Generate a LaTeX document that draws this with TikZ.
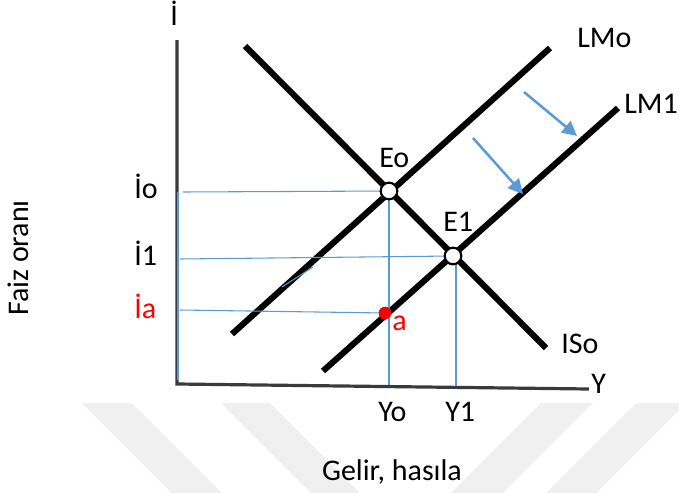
\documentclass[tikz,border=0pt]{standalone}
\usepackage{fontspec}
\setmainfont{Carlito}
\usetikzlibrary{arrows.meta}
\pgfdeclarelayer{back}
\pgfdeclarelayer{mid}
\pgfsetlayers{back,mid,main}
\definecolor{lblue}{HTML}{5B9BD5}
\definecolor{axgray}{HTML}{3A3A3A}
\definecolor{wm}{HTML}{F0F0F0}
\tikzset{
  curve/.style={line width=4.6pt, line cap=butt},
  guide/.style={draw=lblue, line width=0.8pt},
  axisline/.style={draw=axgray, line width=2.4pt},
  shiftarrow/.style={draw=lblue, line width=1.9pt, -{Triangle[length=11pt,width=11pt]}},
  eqpt/.style={circle, draw=black, fill=white, line width=1.6pt, minimum size=12.5pt, inner sep=0pt},
  redpt/.style={circle, fill=red, minimum size=9.5pt, inner sep=0pt},
  lbl/.style={font=\fontsize{22.5}{26}\selectfont, inner sep=0pt, anchor=base west},
  wmstripe/.style={fill=wm, draw=none}
}
\begin{document}
\begin{tikzpicture}[x=0.75pt,y=-0.75pt]
\useasboundingbox (0,0) rectangle (679,493);
% coordinates
\coordinate (origin) at (177,384);
\coordinate (ytop) at (177,40);
\coordinate (xend) at (589,389);
\coordinate (is0a) at (245,46);
\coordinate (is0b) at (546,348);
\coordinate (lm0a) at (232,334);
\coordinate (lm0b) at (550,48);
\coordinate (lm1a) at (323,371);
\coordinate (lm1b) at (618,108);
\coordinate (ioaxis) at (183,192);
\coordinate (i1axis) at (180,259);
\coordinate (iaaxis) at (180,310);
\coordinate (yoaxis) at (389,385);
\coordinate (y1axis) at (456,386);
\coordinate (e1foot) at (456,264);
\coordinate (blueax) at (178,192);
\coordinate (blueaxb) at (178,380);
\coordinate (sb1) at (282,287);
\coordinate (sb2) at (313,267);
\coordinate (ar1s) at (524,92);
\coordinate (ar1e) at (577,136);
\coordinate (ar2s) at (473,138);
\coordinate (ar2e) at (523,194);
% points (main layer, on top)
\node[eqpt] (Eo) at (389,191) {};
\node[eqpt] (E1) at (453,256) {};
\node[redpt] (pa) at (385,313) {};
\begin{pgfonlayer}{back}
% watermark
\fill[wmstripe] (82,403) -- (132,403) -- (222,493) -- (172,493) -- cycle;
\fill[wmstripe] (221,403) -- (270,403) -- (360,493) -- (311,493) -- cycle;
\fill[wmstripe] (541,403) -- (593,403) -- (503,493) -- (451,493) -- cycle;
\fill[wmstripe] (636,403) -- (679,403) -- (679,410) -- (596,493) -- (546,493) -- cycle;
% axes
\draw[axisline] (ytop) -- (origin) -- (xend);
% curves
\draw[curve] (is0a) -- (is0b);
\draw[curve] (lm0a) -- (lm0b);
\draw[curve] (lm1a) -- (lm1b);
\end{pgfonlayer}
\begin{pgfonlayer}{mid}
\draw[guide] (blueax) -- (blueaxb);
\draw[guide] (ioaxis) -- (Eo.center);
\draw[guide] (i1axis) -- (E1.center);
\draw[guide] (iaaxis) -- (pa.center);
\draw[guide] (Eo.center) -- (yoaxis);
\draw[guide] (e1foot) -- (y1axis);
\draw[guide] (sb1) -- (sb2);
\end{pgfonlayer}
% shift arrows
\draw[shiftarrow] (ar1s) -- (ar1e);
\draw[shiftarrow] (ar2s) -- (ar2e);
% labels
\node[lbl] (li) at (170,25) {İ};
\node[lbl] (lLMo) at (577,47) {LMo};
\node[lbl] (lLM1) at (624,113) {LM1};
\node[lbl] (lEo) at (379,167) {Eo};
\node[lbl] (lE1) at (443,231) {E1};
\node[lbl, text=red] (la) at (392,330) {a};
\node[lbl] (lISo) at (561,353) {ISo};
\node[lbl] (lY) at (591,393) {Y};
\node[lbl] (lYo) at (378,421) {Yo};
\node[lbl] (lY1) at (445,421) {Y1};
\node[lbl] (lio) at (134,198) {İo};
\node[lbl] (li1) at (134,265) {İ1};
\node[lbl, text=red] (lia) at (134,318) {İa};
\node[lbl, anchor=base] (lgel) at (392,480) {Gelir, hasıla};
\node[lbl, anchor=base, rotate=90] (lfaiz) at (28,258) {Faiz oranı};
\end{tikzpicture}
\end{document}
